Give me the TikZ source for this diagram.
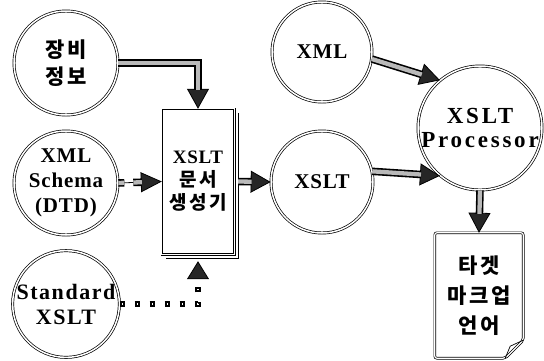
\documentclass[tikz,border=0pt]{standalone}
\usepackage{fontspec}
\setmainfont[LetterSpace=4]{Liberation Serif}
\newfontfamily\kr[LetterSpace=14]{Noto Sans CJK KR}
\newfontfamily\wideserif[LetterSpace=12]{Liberation Serif}
\newfontfamily\midserif[LetterSpace=7]{Liberation Serif}
\usetikzlibrary{arrows.meta,calc}

\tikzset{
  bubble/.style={circle, draw, double, double distance=1.5pt, line width=0.7pt,
    inner sep=0pt, align=center},
  en/.style={font=\fontsize{21}{25}\selectfont\bfseries},
  hangul/.style={font=\kr\fontsize{21}{27}\selectfont\bfseries},
  frame/.style={draw, double, double distance=1.2pt, line width=0.7pt},
  genbox/.style={rectangle, inner sep=0pt, align=center,
    font=\fontsize{19}{23}\selectfont\bfseries},
  pipe/.style={line width=0.8pt,
    -{Triangle[width=22pt,length=20pt,fill=black!85,color=black]},
    postaction={draw, -, line width=7.5pt, black, shorten >=19pt},
    postaction={draw, -, line width=4.3pt, gray!55, shorten >=19pt}},
  brokenpipe/.style={line width=0.8pt,
    -{Triangle[width=20pt,length=21pt,fill=black!85,color=black]},
    postaction={draw, -, line width=7.5pt, black, shorten >=20pt,
      dash pattern=on 6pt off 9pt on 30pt},
    postaction={draw, -, line width=4.3pt, gray!55, shorten >=20pt,
      dash pattern=on 6pt off 9pt on 30pt}},
  dotlink/.style={draw=white, line width=0.8pt, shorten >=7pt,
    -{Triangle[width=22pt,length=18pt,fill=black!85,color=black]},
    postaction={draw=black, -, line width=5.5pt, dash pattern=on 5.5pt off 9.5pt, shorten >=31pt},
    postaction={draw=white, -, line width=1.4pt, dash pattern=on 1.4pt off 13.6pt,
      dash phase=12.95pt, shorten >=31pt}}
}

\begin{document}
\begin{tikzpicture}[x=1pt,y=-1pt]
\useasboundingbox (0,0) rectangle (544,360);

% source bubbles
\node[bubble, minimum size=104pt, hangul] (info) at (66,63) {장비\\정보};
\node[bubble, minimum size=104pt, en] (schema) at (66,183) {XML\\Schema\\(DTD)};
\node[bubble, minimum size=106pt, font=\midserif\fontsize{22}{25}\selectfont\bfseries]
  (std) at (66,304) {Standard\\XSLT};

% generator box and its stacked page edge
\node[genbox, minimum width=72pt, minimum height=145pt] (gen) at (198,181.5)
  {XSLT\\{\kr\bfseries 문서}\\{\kr\bfseries 생성기}};
\path[frame] (gen.north west) -- (gen.north east) -- (gen.south east)
  -- (gen.south west) -- cycle;
\draw[line width=1.4pt] ($(gen.north east)+(4,4)$) -- ($(gen.south east)+(4,4)$)
  -- ($(gen.south west)+(4,4)$);

% right-hand bubbles
\node[bubble, minimum size=100pt, en] (xml) at (322,52) {XML};
\node[bubble, minimum size=102pt, en] (xslt) at (322,182) {XSLT};
\node[bubble, minimum size=124pt, font=\wideserif\fontsize{23}{24}\selectfont\bfseries]
  (proc) at (480,128) {XSLT\\Processor};

% output document with folded corner
\node[rectangle, minimum width=88pt, minimum height=125pt, inner sep=0pt, align=center,
  font=\kr\fontsize{21}{30}\selectfont\bfseries] (doc) at (479,295.5) {타겟\\마크업\\언어};
\path[frame, rounded corners=2pt]
  (doc.north west) -- (doc.north east) -- ($(doc.south east)+(0,-18)$)
  -- ($(doc.south east)+(-18,0)$) -- (doc.south west) -- cycle;
\draw[line width=0.7pt] ($(doc.south east)+(0,-18)$) -- ($(doc.south east)+(-13,-12)$)
  -- ($(doc.south east)+(-18,0)$);

% connectors
\draw[pipe] (info.east) -| (gen.north);
\draw[brokenpipe] (schema.east) -- (gen.west);
\draw[pipe] ($(gen.east)+(4,0)$) -- (xslt.west);
\draw[pipe] (xml.-8) -- (proc.130);
\draw[pipe] (xslt.12) -- (proc.230);
\draw[pipe] (proc.south) -- (doc.north);
\draw[dotlink] (std.east) -| (gen.south);
\end{tikzpicture}
\end{document}
